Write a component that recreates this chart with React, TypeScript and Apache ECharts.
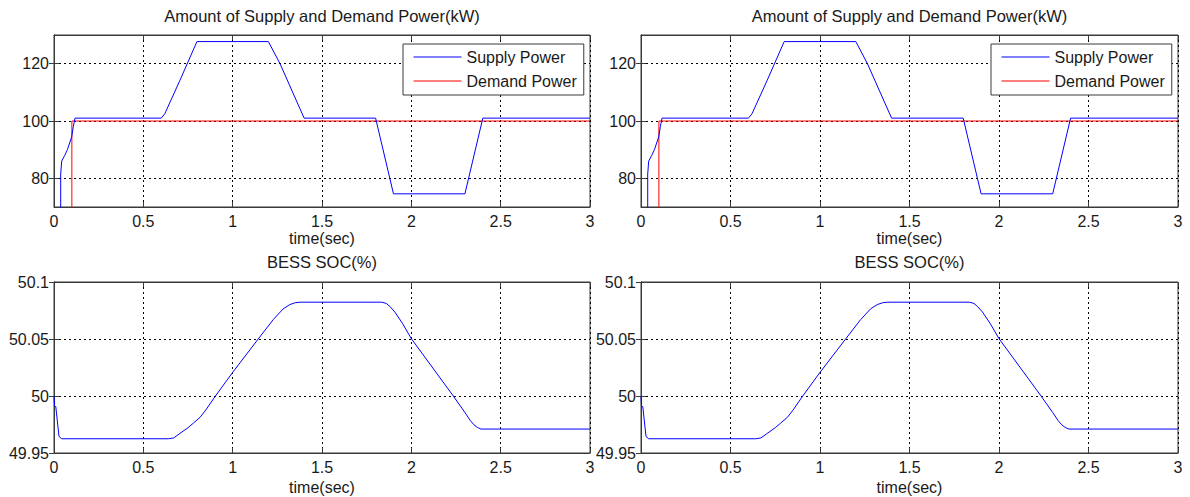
import React, { useEffect, useRef } from "react";
import * as echarts from "echarts";

// ---- data ----
const timeTicks = [0, 0.5, 1, 1.5, 2, 2.5, 3];
const powerTicks = [80, 100, 120];
const socTicks = [49.95, 50, 50.05, 50.1];

const supplyTime = [0, 0.0375, 0.0375, 0.043, 0.06, 0.075, 0.099, 0.108, 0.1175, 0.6, 0.62, 0.705, 0.8, 1.2, 1.265, 1.4, 1.8, 1.9, 2.3, 2.4, 3];
const supplyPower = [0, 0, 81.5, 86, 88, 90, 94.5, 98, 101, 101, 102.5, 114.2, 127.7, 127.7, 120, 101, 101, 74.6, 74.6, 101, 101];

const demandTime = [0, 0.1, 0.1, 3];
const demandPower = [0, 0, 100, 100];

const socTime = [0, 0.003, 0.01, 0.028, 0.043, 0.64, 0.67, 0.705, 0.75, 0.78, 0.817, 0.85, 0.9, 0.998, 1.143, 1.227, 1.283, 1.32, 1.35, 1.377, 1.834, 1.86, 1.88, 1.908, 1.95, 2.0, 2.235, 2.3, 2.33, 2.35, 2.37, 2.39, 3];
const socValue = [50.0, 49.991, 49.9907, 49.9645, 49.9625, 49.9625, 49.9632, 49.9672, 49.9722, 49.9762, 49.9812, 49.9878, 49.9992, 50.0203, 50.05, 50.067, 50.0765, 50.0802, 50.0818, 50.0823, 50.0823, 50.0812, 50.0785, 50.0736, 50.0638, 50.0503, 50.0, 49.9855, 49.9785, 49.9748, 49.9724, 49.971, 49.971];

const powerTitle = "Amount of Supply and Demand Power(kW)";
const socTitle = "BESS SOC(%)";
const xName = "time(sec)";
const legendNames = ["Supply Power", "Demand Power"];

const zip = (xs: number[], ys: number[]) => xs.map((x, i) => [x, ys[i]]);

const FONT = "Liberation Sans, Arial, sans-serif";
const TEXT = "#1a1a1a";
const AXIS = "#3a3a3a";

export default function App() {
  const ref = useRef<HTMLDivElement>(null);
  useEffect(() => {
    if (!ref.current) return;
    const chart = echarts.init(ref.current, undefined, { renderer: "svg" });

    const grids = [
      { left: 54, top: 35, width: 536, height: 172 },
      { left: 641, top: 35, width: 537, height: 172 },
      { left: 54, top: 282, width: 536, height: 171 },
      { left: 641, top: 282, width: 537, height: 171 },
    ];

    const xAxes: any[] = [];
    const yAxes: any[] = [];
    const series: any[] = [];

    grids.forEach((g, i) => {
      const isPower = i < 2;
      xAxes.push({
        type: "value",
        gridIndex: i,
        min: timeTicks[0],
        max: timeTicks[timeTicks.length - 1],
        interval: 0.5,
        axisLine: { show: true, lineStyle: { color: AXIS, width: 1 } },
        axisTick: { show: true, inside: true, length: 5, lineStyle: { color: AXIS } },
        axisLabel: { show: true, color: TEXT, fontSize: 16, fontFamily: FONT, margin: 6 },
        splitLine: { show: true, lineStyle: { color: "#000", width: 1, type: [2, 3] } },
      });
      xAxes.push({
        type: "value",
        gridIndex: i,
        position: "top",
        min: timeTicks[0],
        max: timeTicks[timeTicks.length - 1],
        interval: 0.5,
        axisLine: { show: true, lineStyle: { color: AXIS, width: 1 } },
        axisTick: { show: true, inside: true, length: 5, lineStyle: { color: AXIS } },
        axisLabel: { show: false },
        splitLine: { show: false },
      });
      const yBase: any = isPower
        ? { min: 70, max: 130, interval: 10 }
        : { min: socTicks[0], max: socTicks[socTicks.length - 1], interval: 0.05 };
      const custom = isPower ? powerTicks : null;
      yAxes.push({
        type: "value",
        gridIndex: i,
        ...yBase,
        axisLine: { show: true, lineStyle: { color: AXIS, width: 1 } },
        axisTick: { show: true, inside: true, length: 5, lineStyle: { color: AXIS }, ...(custom ? { customValues: custom } : {}) },
        axisLabel: { show: true, color: TEXT, fontSize: 16, fontFamily: FONT, margin: 5, ...(custom ? { customValues: custom } : {}) },
        splitLine: { show: true, lineStyle: { color: "#000", width: 1, type: [2, 3] } },
      });
      yAxes.push({
        type: "value",
        gridIndex: i,
        position: "right",
        ...yBase,
        axisLine: { show: true, lineStyle: { color: AXIS, width: 1 } },
        axisTick: { show: true, inside: true, length: 5, lineStyle: { color: AXIS }, ...(custom ? { customValues: custom } : {}) },
        axisLabel: { show: false },
        splitLine: { show: false },
      });

      if (isPower) {
        series.push({
          type: "line",
          name: legendNames[0],
          xAxisIndex: 2 * i,
          yAxisIndex: 2 * i,
          data: zip(supplyTime, supplyPower),
          symbol: "none",
          clip: true,
          lineStyle: { color: "#0000ff", width: 1 },
          itemStyle: { color: "#0000ff" },
          z: 4,
        });
        series.push({
          type: "line",
          name: legendNames[1],
          xAxisIndex: 2 * i,
          yAxisIndex: 2 * i,
          data: zip(demandTime, demandPower),
          symbol: "none",
          clip: true,
          lineStyle: { color: "#ff0000", width: 1 },
          itemStyle: { color: "#ff0000" },
          z: 3,
        });
      } else {
        series.push({
          type: "line",
          name: "SOC",
          xAxisIndex: 2 * i,
          yAxisIndex: 2 * i,
          data: zip(socTime, socValue),
          symbol: "none",
          clip: true,
          lineStyle: { color: "#0000ff", width: 1 },
          itemStyle: { color: "#0000ff" },
        });
      }
    });

    const legendBase = {
      orient: "vertical",
      top: 44,
      data: legendNames,
      itemWidth: 48,
      itemHeight: 14,
      itemGap: 8,
      padding: [5, 7, 6, 10],
      backgroundColor: "#fff",
      borderColor: "#3a3a3a",
      borderWidth: 1,
      borderRadius: 0,
      textStyle: { color: TEXT, fontSize: 16, fontFamily: FONT },
      itemStyle: { opacity: 0 },
      lineStyle: { width: 1 },
      selectedMode: false,
      z: 10,
    };

    const textEl = (text: string, x: number, y: number, size: number) => ({
      type: "text",
      x,
      y,
      silent: true,
      style: { text, fill: TEXT, font: `${size}px ${FONT}`, align: "center", verticalAlign: "middle" },
    });

    const centers = [grids[0].left + grids[0].width / 2, grids[1].left + grids[1].width / 2];

    chart.setOption({
      animation: false,
      backgroundColor: "#fff",
      grid: grids.map((g) => ({ ...g, show: true, borderColor: AXIS, borderWidth: 1, backgroundColor: "transparent" })),
      xAxis: xAxes,
      yAxis: yAxes,
      legend: [
        { ...legendBase, left: 403 },
        { ...legendBase, left: 991 },
      ],
      graphic: [
        textEl(powerTitle, centers[0], 16, 16.5),
        textEl(powerTitle, centers[1], 16, 16.5),
        textEl(xName, centers[0], 238, 16),
        textEl(xName, centers[1], 238, 16),
        textEl(socTitle, centers[0], 262, 16.5),
        textEl(socTitle, centers[1], 262, 16.5),
        textEl(xName, centers[0], 487, 16),
        textEl(xName, centers[1], 487, 16),
      ],
      series,
    });

    return () => chart.dispose();
  }, []);

  return (
    <div
      ref={ref}
      style={{ position: "absolute", left: 0, top: 0, width: 1190, height: 497, background: "#fff" }}
    />
  );
}
